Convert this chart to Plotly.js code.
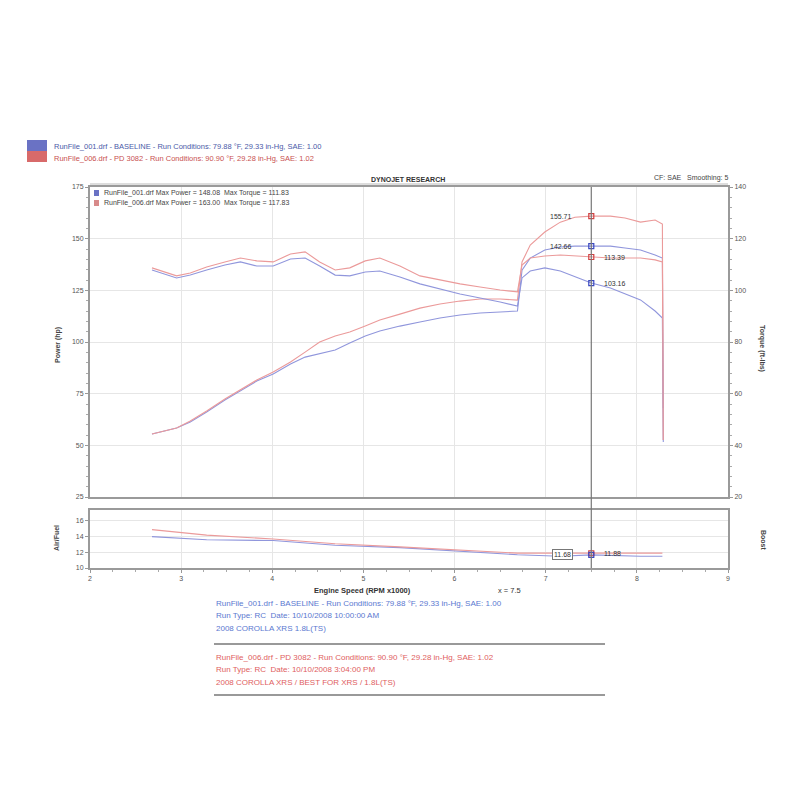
<!DOCTYPE html>
<html><head><meta charset="utf-8">
<script src="https://cdn.plot.ly/plotly-3.0.1.min.js"></script>
<style>html,body{margin:0;padding:0;background:#fff}#chart{width:800px;height:800px}</style>
</head><body><div id="chart"></div>
<script>
// Engine speed (RPM x1000)
const rpm = [2.68,2.82,2.95,3.10,3.28,3.48,3.65,3.83,4.01,4.20,4.36,4.52,4.69,4.85,5.02,5.18,5.40,5.62,5.84,6.06,6.28,6.50,6.69,6.74,6.83,6.99,7.16,7.32,7.50,7.71,7.87,8.04,8.20,8.28,8.29];
// Power (hp)
const powerBase = [55.5,56.9,58.4,61.3,66.1,71.9,76.3,81.1,84.5,89.3,92.7,94.2,96.1,99.5,102.9,105.3,107.7,109.7,111.6,113.1,114.0,114.5,115.0,134.8,140.6,144.5,146.0,146.4,146.4,146.4,145.5,144.5,142.1,140.6,68.1];
const powerMod  = [55.5,56.9,58.4,61.8,66.6,72.4,76.8,81.6,85.5,90.3,95.1,100.0,102.9,104.8,107.7,110.6,113.5,116.4,118.4,119.8,120.8,120.8,120.3,138.7,146.9,153.2,158.0,160.4,160.9,160.9,160.0,158.0,159.0,157.1,52.6];
// Torque (ft-lbs)
const torqueBase = [107.9,106.3,104.8,105.9,107.9,109.8,111.0,109.4,109.4,112.1,112.5,109.4,105.9,105.6,107.1,107.5,105.2,102.5,100.5,98.6,97.0,95.5,93.9,104.8,107.5,108.7,107.5,105.2,102.8,100.9,98.6,96.3,92.0,89.3,41.3];
const torqueMod  = [108.7,107.1,105.6,106.7,109.0,111.0,112.5,111.4,111.0,114.1,114.9,111.0,107.9,108.7,111.4,112.5,109.4,105.6,104.0,102.5,101.3,100.1,99.4,109.8,112.5,113.3,113.7,113.3,112.9,112.5,112.5,112.5,111.8,111.0,42.1];
// Air/Fuel
const afrRpm  = [2.68,3.28,4.01,4.69,5.40,6.06,6.69,7.16,7.50,8.04,8.28];
const afrBase = [14.0,13.6,13.5,12.9,12.6,12.1,11.7,11.5,11.68,11.5,11.5];
const afrMod  = [14.9,14.2,13.7,13.1,12.7,12.3,11.9,11.9,11.88,11.9,11.9];
// Cursor and its readouts
const cursorRpm = 7.5;
const lblPowerMod = '155.71', lblPowerBase = '142.66';
const lblTorqueMod = '113.39', lblTorqueBase = '103.16';
const lblAfrMod = '11.88', lblAfrBase = '11.68';
// Texts
const runBase = 'RunFile_001.drf - BASELINE - Run Conditions: 79.88 °F, 29.33 in-Hg, SAE: 1.00';
const runMod  = 'RunFile_006.drf - PD 3082 - Run Conditions: 90.90 °F, 29.28 in-Hg, SAE: 1.02';
const legBase = ['RunFile_001.drf Max Power = 148.08', 'Max Torque = 111.83'];
const legMod  = ['RunFile_006.drf Max Power = 163.00', 'Max Torque = 117.83'];
const infoBase = [runBase, 'Run Type: RC  Date: 10/10/2008 10:00:00 AM', '2008 COROLLA XRS 1.8L(TS)'];
const infoMod  = [runMod, 'Run Type: RC  Date: 10/10/2008 3:04:00 PM', '2008 COROLLA XRS / BEST FOR XRS / 1.8L(TS)'];

const BLUE = '#9096dc', RED = '#eb9a9a';
const FONT = 'Liberation Sans, Arial, sans-serif';
const X = p => p/800, Y = p => 1 - p/800;

const ci = rpm.indexOf(cursorRpm), ca = afrRpm.indexOf(cursorRpm);

const lineT = (x, y, xa, ya, c, name) => ({x, y, xaxis: xa, yaxis: ya, type: 'scatter', mode: 'lines', name,
  line: {color: c, width: 1.1}, hoverinfo: 'skip'});
const mk = (y, ya, xa, c) => ({x: [cursorRpm], y: [y], xaxis: xa, yaxis: ya, type: 'scatter', mode: 'markers',
  marker: {symbol: 'square-open', size: 5, color: c, line: {width: 1.2, color: c}}, hoverinfo: 'skip'});

const data = [
  lineT(rpm, torqueBase, 'x', 'y2', BLUE, 'tq base'),
  lineT(rpm, torqueMod, 'x', 'y2', RED, 'tq mod'),
  lineT(rpm, powerBase, 'x', 'y', BLUE, 'hp base'),
  lineT(rpm, powerMod, 'x', 'y', RED, 'hp mod'),
  lineT(afrRpm, afrBase, 'x2', 'y3', BLUE, 'afr base'),
  lineT(afrRpm, afrMod, 'x2', 'y3', RED, 'afr mod'),
  mk(powerMod[ci], 'y', 'x', '#d04040'),
  mk(powerBase[ci], 'y', 'x', '#3a48c0'),
  mk(torqueMod[ci], 'y2', 'x', '#d04040'),
  mk(torqueBase[ci], 'y2', 'x', '#3a48c0'),
  mk(afrMod[ca], 'y3', 'x2', '#d04040'),
  mk(afrBase[ca], 'y3', 'x2', '#3a48c0')
];

const tf = {family: FONT, size: 7, color: '#555'};
const axBase = {showline: true, mirror: true, linecolor: '#9a9a9a', linewidth: 2, gridcolor: '#e6e6e6',
  tickfont: tf, ticks: 'outside', ticklen: 3, tickcolor: '#999', zeroline: false, fixedrange: true};

const ann = [];
const T = (text, x, y, o) => ann.push(Object.assign({text, x: X(x), y: Y(y), xref: 'paper', yref: 'paper',
  showarrow: false, xanchor: 'left', yanchor: 'middle', font: {family: FONT, size: 7, color: '#444'}}, o || {}));

T(runBase, 52, 147, {font: {family: FONT, size: 7.5, color: '#4a5aa8'}});
T(runMod, 52, 158, {font: {family: FONT, size: 7.5, color: '#c85050'}});
T('<b>DYNOJET RESEARCH</b>', 408, 180, {xanchor: 'center', font: {family: FONT, size: 7, color: '#333'}});
T('CF: SAE   Smoothing: 5', 652, 178, {font: {family: FONT, size: 7, color: '#444'}});
T(legBase[0], 102, 193); T(legBase[1], 222, 193);
T(legMod[0], 102, 203); T(legMod[1], 222, 203);
T('<b>Power (hp)</b>', 58, 345, {xanchor: 'center', textangle: -90});
T('<b>Torque (ft-lbs)</b>', 762, 348, {xanchor: 'center', textangle: 90});
T('<b>Air/Fuel</b>', 56, 538, {xanchor: 'center', textangle: -90});
T('<b>Boost</b>', 764, 540, {xanchor: 'center', textangle: 90});
T('<b>Engine Speed (RPM x1000)</b>', 362, 590, {xanchor: 'center', font: {family: FONT, size: 7.5, color: '#333'}});
T('x = 7.5', 510, 590, {xanchor: 'center', font: {family: FONT, size: 7.5, color: '#333'}});
infoBase.forEach((s, i) => T(s, 214, 603 + i*12.5, {font: {family: FONT, size: 8, color: '#5a78d0'}}));
infoMod.forEach((s, i) => T(s, 214, 657 + i*12.5, {font: {family: FONT, size: 8, color: '#e06060'}}));

const cur = (text, xa, ya, y, c, left, box) => ann.push({text, x: cursorRpm, y, xref: xa, yref: ya, showarrow: false,
  xanchor: left ? 'right' : 'left', xshift: left ? -18 : 12, font: {family: FONT, size: 7, color: c},
  bordercolor: box ? '#777' : undefined, borderwidth: box ? 1 : 0, borderpad: 1, bgcolor: box ? '#fff' : undefined});
cur(lblPowerMod, 'x', 'y', powerMod[ci], '#333', true);
cur(lblPowerBase, 'x', 'y', powerBase[ci], '#333', true);
cur(lblTorqueMod, 'x', 'y2', torqueMod[ci], '#333', false);
cur(lblTorqueBase, 'x', 'y2', torqueBase[ci], '#333', false);
cur(lblAfrMod, 'x2', 'y3', afrMod[ca], '#333', false);
cur(lblAfrBase, 'x2', 'y3', afrBase[ca], '#333', true, true);

const shapes = [
  {type: 'rect', xref: 'paper', yref: 'paper', x0: X(27), x1: X(47), y0: Y(151), y1: Y(140), fillcolor: '#6a72c4', line: {width: 0}},
  {type: 'rect', xref: 'paper', yref: 'paper', x0: X(27), x1: X(47), y0: Y(162), y1: Y(151), fillcolor: '#d86a6a', line: {width: 0}},
  {type: 'rect', xref: 'paper', yref: 'paper', x0: X(94), x1: X(99), y0: Y(196), y1: Y(190), fillcolor: '#6a72c4', line: {width: 0}},
  {type: 'rect', xref: 'paper', yref: 'paper', x0: X(94), x1: X(99), y0: Y(206), y1: Y(200), fillcolor: '#d88a8a', line: {width: 0}},
  {type: 'line', xref: 'paper', yref: 'paper', x0: X(90), x1: X(728), y0: Y(184), y1: Y(184), line: {color: '#bbb', width: 1}},
  {type: 'line', xref: 'x', yref: 'paper', x0: cursorRpm, x1: cursorRpm, y0: Y(568), y1: Y(187), line: {color: '#777', width: 1.2}},
  {type: 'line', xref: 'paper', yref: 'paper', x0: X(214), x1: X(605), y0: Y(644), y1: Y(644), line: {color: '#999', width: 2}},
  {type: 'line', xref: 'paper', yref: 'paper', x0: X(214), x1: X(605), y0: Y(695), y1: Y(695), line: {color: '#999', width: 2}}
];

const layout = {
  width: 800, height: 800, margin: {l: 0, r: 0, t: 0, b: 0},
  paper_bgcolor: '#fff', plot_bgcolor: '#fff', showlegend: false,
  font: {family: FONT},
  xaxis: Object.assign({}, axBase, {domain: [X(90), X(728)], range: [2, 9], dtick: 1, anchor: 'y', showticklabels: false, ticks: ''}),
  xaxis2: Object.assign({}, axBase, {domain: [X(90), X(728)], range: [2, 9], dtick: 1, anchor: 'y3',
    minor: {ticks: 'outside', ticklen: 2, dtick: 0.25, tickcolor: '#aaa'}}),
  yaxis: Object.assign({}, axBase, {domain: [Y(497), Y(187)], range: [25, 175], dtick: 25, anchor: 'x',
    minor: {ticks: 'outside', ticklen: 2, dtick: 5, tickcolor: '#aaa'}}),
  yaxis2: Object.assign({}, axBase, {overlaying: 'y', side: 'right', range: [20, 140], dtick: 20, anchor: 'x', showgrid: false,
    minor: {ticks: 'outside', ticklen: 2, dtick: 4, tickcolor: '#aaa'}}),
  yaxis3: Object.assign({}, axBase, {domain: [Y(568), Y(510)], range: [10, 17.4], tickvals: [10, 12, 14, 16], anchor: 'x2'}),
  annotations: ann, shapes
};

Plotly.newPlot('chart', data, layout, {staticPlot: true});
</script></body></html>
